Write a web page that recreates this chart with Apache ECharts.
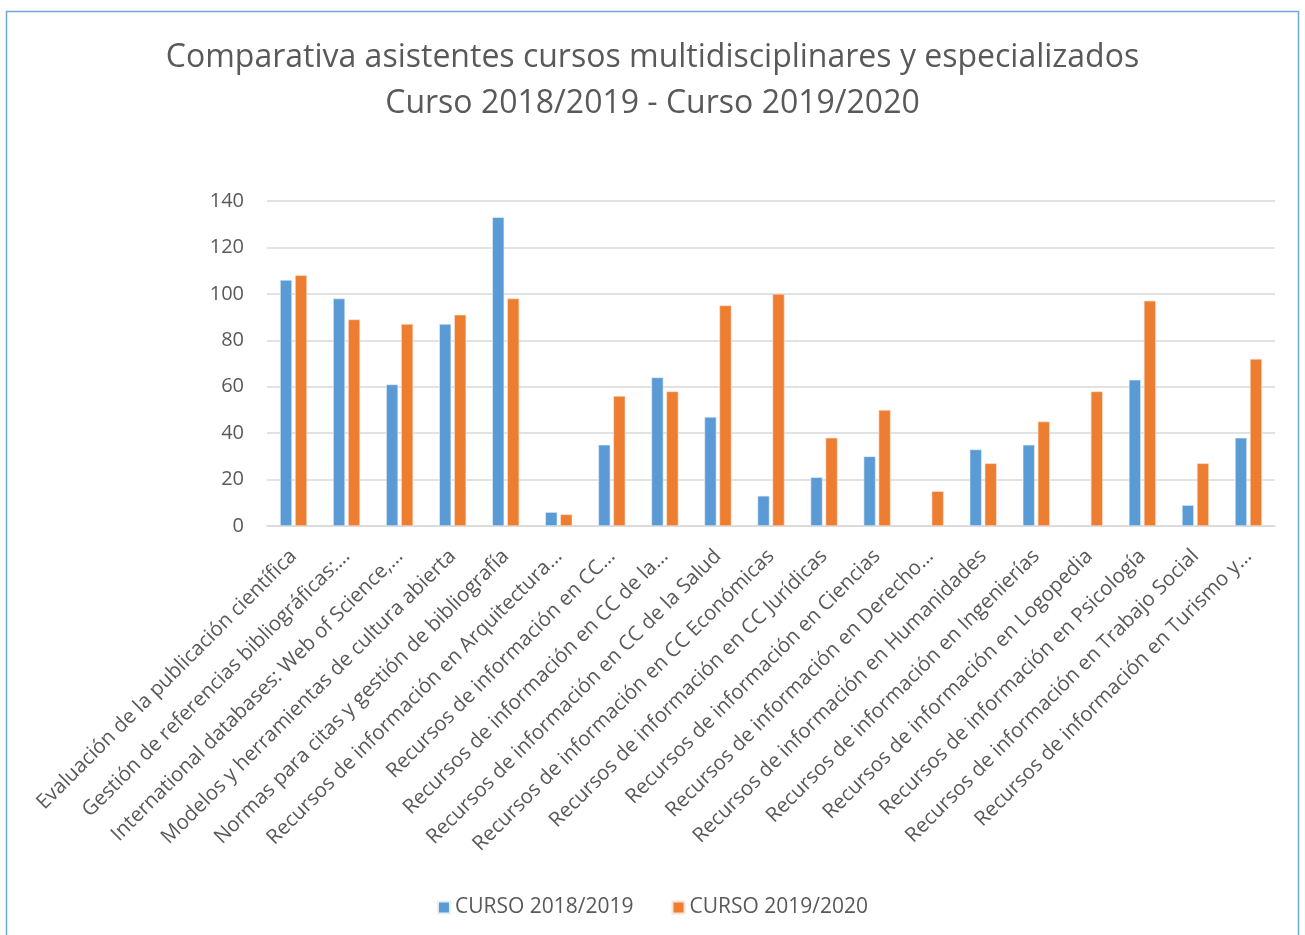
<!DOCTYPE html>
<html>
<head>
<meta charset="utf-8">
<script src="https://cdn.jsdelivr.net/npm/echarts@6/dist/echarts.min.js"></script>
<style>
html,body{margin:0;padding:0;background:#fff;}
#chart{width:1305px;height:935px;}
</style>
</head>
<body>
<div id="chart"></div>
<script>
const categories = [
  "Evaluación de la publicación científica",
  "Gestión de referencias bibliográficas:…",
  "International databases: Web of Science,…",
  "Modelos y herramientas de cultura abierta",
  "Normas para citas y gestión de bibliografía",
  "Recursos de información en Arquitectura…",
  "Recursos de información en CC…",
  "Recursos de información en CC de la…",
  "Recursos de información en CC de la Salud",
  "Recursos de información en CC Económicas",
  "Recursos de información en CC Jurídicas",
  "Recursos de información en Ciencias",
  "Recursos de información en Derecho…",
  "Recursos de información en Humanidades",
  "Recursos de información en Ingenierías",
  "Recursos de información en Logopedia",
  "Recursos de información en Psicología",
  "Recursos de información en Trabajo Social",
  "Recursos de información en Turismo y…"
];
const curso2018 = [106, 98, 61, 87, 133, 6, 35, 64, 47, 13, 21, 30, null, 33, 35, null, 63, 9, 38];
const curso2019 = [108, 89, 87, 91, 98, 5, 56, 58, 95, 100, 38, 50, 15, 27, 45, 58, 97, 27, 72];
const seriesNames = ["CURSO 2018/2019", "CURSO 2019/2020"];
const yTicks = {min: 0, max: 140, interval: 20};

const FONT = "Open Sans";
const TXT = "#595959";
const chart = echarts.init(document.getElementById('chart'), null, {renderer: 'canvas'});
chart.setOption({
  animation: false,
  backgroundColor: '#fff',
  textStyle: {fontFamily: FONT},
  graphic: [{
    type: 'rect',
    shape: {x: 6.5, y: 11.5, width: 1292, height: 940},
    style: {fill: 'none', stroke: '#6fa6dc', lineWidth: 1.5},
    silent: true
  }],
  title: {
    text: "Comparativa asistentes cursos multidisciplinares y especializados\nCurso 2018/2019 - Curso 2019/2020",
    left: 'center',
    top: 30,
    textStyle: {fontFamily: FONT, fontSize: 32, fontWeight: 'normal', color: TXT, lineHeight: 46, align: 'center'}
  },
  legend: {
    bottom: 12,
    left: 'center',
    itemWidth: 12,
    itemHeight: 12,
    itemGap: 38,
    icon: 'rect',
    textStyle: {fontFamily: FONT, fontSize: 21, color: TXT},
    data: seriesNames
  },
  grid: {left: 267, right: 30, top: 201, bottom: 409, containLabel: false},
  xAxis: {
    type: 'category',
    data: categories,
    axisLine: {lineStyle: {color: '#d9d9d9', width: 1.5}},
    axisTick: {show: false},
    axisLabel: {rotate: 45, interval: 0, fontFamily: FONT, fontSize: 20.5, color: TXT, margin: 27}
  },
  yAxis: {
    type: 'value',
    min: yTicks.min, max: yTicks.max, interval: yTicks.interval,
    axisLine: {show: false},
    axisTick: {show: false},
    splitLine: {lineStyle: {color: '#d9d9d9', width: 1.5}},
    axisLabel: {fontFamily: FONT, fontSize: 20, color: TXT, margin: 23}
  },
  series: [
    {name: seriesNames[0], type: 'bar', data: curso2018, barWidth: 12, barGap: '25%',
     itemStyle: {color: '#5b9bd5', borderColor: '#e6f0fa', borderWidth: 0.6}},
    {name: seriesNames[1], type: 'bar', data: curso2019, barWidth: 12,
     itemStyle: {color: '#ed7d31', borderColor: '#fbe3d3', borderWidth: 0.6}}
  ]
});
</script>
</body>
</html>
